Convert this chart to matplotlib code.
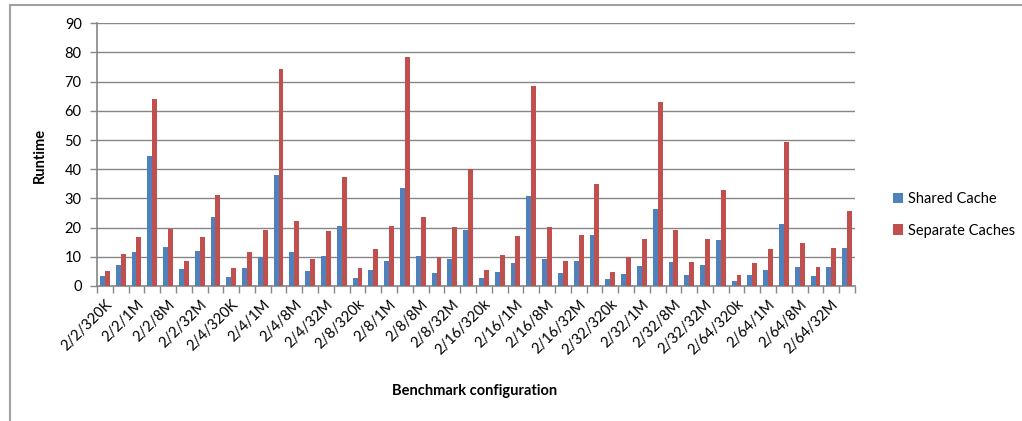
import matplotlib.pyplot as plt
from matplotlib.lines import Line2D
import numpy as np

plt.rcParams['font.family'] = ['Lato', 'DejaVu Sans']

prefixes = ['2/2', '2/4', '2/8', '2/16', '2/32', '2/64']
sizes = ['320K', '640K', '1M', '4M', '8M', '16M', '32M', '64M']
configs = []
for p in prefixes:
    for s in sizes:
        if p not in ('2/2', '2/4'):
            s = s.replace('K', 'k')
        configs.append(p + '/' + s)

shared = [3.4, 7.1, 11.6, 44.7, 13.4, 5.9, 12.0, 23.6,
          3.1, 6.1, 9.8, 37.9, 11.6, 5.1, 10.3, 20.4,
          2.6, 5.5, 8.6, 33.4, 10.3, 4.6, 9.2, 19.1,
          2.6, 4.9, 7.9, 30.7, 9.2, 4.6, 8.4, 17.5,
          2.3, 4.2, 6.7, 26.5, 8.1, 3.7, 7.3, 15.9,
          1.7, 3.7, 5.4, 21.3, 6.5, 3.3, 6.5, 13.1]
separate = [5.1, 11.0, 16.7, 64.2, 19.6, 8.4, 16.7, 31.1,
            6.2, 11.8, 19.2, 74.5, 22.3, 9.4, 18.8, 37.2,
            6.3, 12.6, 20.5, 78.5, 23.7, 9.9, 20.2, 40.2,
            5.4, 10.7, 17.1, 68.6, 20.1, 8.7, 17.4, 35.0,
            4.9, 10.0, 16.2, 63.1, 19.1, 8.1, 16.2, 33.0,
            3.8, 7.8, 12.6, 49.4, 14.8, 6.5, 13.1, 25.8]

blue = '#4F81BD'
red = '#C0504D'
grey = '#868686'

fig = plt.figure(figsize=(10.22, 4.21), dpi=100)
ax = fig.add_axes([0.0949, 0.3207, 0.7417, 0.624])

x = np.arange(len(configs))
w = 0.31
ax.bar(x - w / 2, shared, w, color=blue, label='Shared Cache', zorder=3)
ax.bar(x + w / 2, separate, w, color=red, label='Separate Caches', zorder=3)

ax.set_xlim(-0.5, len(configs) - 0.5)
ax.set_ylim(0, 90)
ax.set_yticks(range(0, 91, 10))
ax.yaxis.grid(True, color=grey, linewidth=1.0, zorder=0)

# ticks sit between groups, labels on every other group
ax.set_xticks(np.arange(-0.5, len(configs), 1.0))
ax.set_xticklabels([])
ax.set_xticks(x[::2], minor=True)
ax.set_xticklabels(configs[::2], minor=True, rotation=45, ha='right',
                   rotation_mode='anchor', fontsize=10.5)
ax.tick_params(axis='x', which='major', length=5, color=grey, width=1)
ax.tick_params(axis='x', which='minor', length=0, pad=8)
ax.tick_params(axis='y', length=5, color=grey, width=1, labelsize=10.5, pad=6)

for s in ['top', 'right']:
    ax.spines[s].set_visible(False)
for s in ['left', 'bottom']:
    ax.spines[s].set_color(grey)
    ax.spines[s].set_linewidth(1.2)

fig.text(40 / 1022, 1 - 155 / 421, 'Runtime', rotation=90, ha='center',
         va='center', fontsize=10.5, fontweight='bold')
fig.text(475 / 1022, 1 - 391 / 421, 'Benchmark configuration', ha='center',
         va='center', fontsize=10.5, fontweight='bold')

leg = fig.legend(loc='upper left', bbox_to_anchor=(880 / 1022, 1 - 179 / 421),
                 frameon=False, fontsize=10.5, handlelength=0.7, handleheight=0.7,
                 handletextpad=0.3, labelspacing=1.2)

# outer chart frame
fig.add_artist(Line2D([10 / 1022, 1], [1 - 5 / 421, 1 - 5 / 421],
                      color='#A0A0A0', linewidth=1.5))
fig.add_artist(Line2D([10 / 1022, 10 / 1022], [0, 1 - 5 / 421],
                      color='#A0A0A0', linewidth=1.5))

fig.savefig('out.png', dpi=100)
